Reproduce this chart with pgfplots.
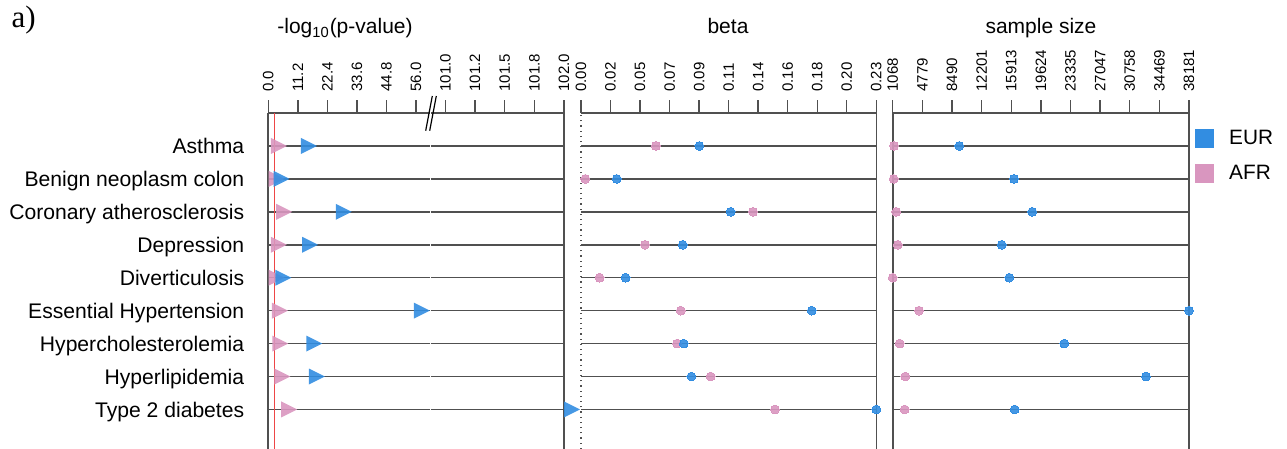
\documentclass[border=0pt]{standalone}
\usepackage{pgfplots}
\usepackage{pgfplotstable}
\pgfplotsset{compat=1.18}
\usepackage{fontspec}
\setmainfont{Liberation Sans}
\newfontfamily\seriffont{Liberation Serif}
\definecolor{eur}{RGB}{50,141,225}
\definecolor{afr}{RGB}{217,150,191}
\definecolor{lin}{RGB}{80,80,80}
\definecolor{redl}{RGB}{238,70,70}

\pgfdeclareplotmark{rtri}{%
 \pgfpathmoveto{\pgfqpoint{0pt}{4pt}}%
 \pgfpathlineto{\pgfqpoint{8pt}{0pt}}%
 \pgfpathlineto{\pgfqpoint{0pt}{-4pt}}%
 \pgfpathclose\pgfusepathqfill}

% row: 1 Asthma ... 9 Type 2 diabetes
\pgfplotstableread{
row peur pafr beur bafr neur nafr
1 12.4 1.0 0.0902 0.0571 9410 1231
2 2.0 0.1 0.0272 0.0033 16261 1193
3 25.6 3.0 0.1140 0.1311 18553 1519
4 12.8 1.0 0.0775 0.0488 14720 1694
5 2.7 0.1 0.0340 0.0142 15672 1068
6 55.2 1.4 0.1758 0.0760 38181 4362
7 14.4 1.5 0.0783 0.0732 22561 1945
8 15.4 2.3 0.0841 0.0988 32794 2646
9 102.0 4.9 0.2250 0.1478 16348 2571
}\data

\pgfplotsset{
 panel/.style={
  scale only axis, height=168pt, ymin=0, ymax=10.2, y dir=reverse,
  ytick={1,...,9}, ytick style={draw=none}, yticklabels={},
  ymajorgrids, major grid style={draw=lin, line width=0.75pt},
  axis x line=top, axis line style={draw=lin, line width=0.8pt, -},
  tick align=outside, major tick length=6.5pt,
  xtick style={draw=lin, line width=0.7pt},
  xticklabel shift=4pt,
  xticklabel style={rotate=90, anchor=west, inner sep=0pt, font=\fontsize{7.5}{8}\selectfont},
  clip=false, anchor=north west,
 },
 noarrows/.style={
  every outer x axis line/.append style={-},
  every outer y axis line/.append style={-},
  every inner x axis line/.append style={-},
  every inner y axis line/.append style={-},
  x axis line style={-}, y axis line style={-},
 },
 eurtri/.style={only marks, mark=rtri, color=eur, fill=eur, fill opacity=0.9, forget plot},
 afrtri/.style={only marks, mark=rtri, color=afr, fill=afr, fill opacity=0.9, forget plot},
 eurdot/.style={only marks, mark=*, mark size=2.2pt, color=eur, mark options={line width=0pt, draw=eur, fill=eur, fill opacity=0.9}, forget plot},
 afrdot/.style={only marks, mark=*, mark size=2.2pt, color=afr, mark options={line width=0pt, draw=afr, fill=afr, fill opacity=0.9}, forget plot},
}

\begin{document}
\begin{tikzpicture}
\useasboundingbox (0,0) rectangle (643.5pt,-224.5pt);

% panel 1, segment before the break
\begin{axis}[panel, at={(134.15pt,-56.5pt)}, width=81.1pt,
  xmin=0, xmax=61.5, axis y line=left,
  xtick={0,11.2,22.4,33.6,44.8,56},
  xticklabels={0.0,11.2,22.4,33.6,44.8,56.0},
  yticklabels={Asthma,Benign neoplasm colon,Coronary atherosclerosis,Depression,Diverticulosis,Essential Hypertension,Hypercholesterolemia,Hyperlipidemia,Type 2 diabetes},
  yticklabel style={anchor=base east, inner sep=0pt, xshift=-8.6pt, yshift=-3.8pt, font=\fontsize{10.56}{12}\selectfont},
  noarrows]
\addplot[redl, line width=0.55pt, forget plot] coordinates {(2.3,0) (2.3,10.2)};
\addplot[afrtri, restrict x to domain=0:61.5] table[x=pafr, y=row] {\data};
\addplot[eurtri, restrict x to domain=0:61.5] table[x=peur, y=row] {\data};
\end{axis}

% panel 1, segment after the break
\begin{axis}[panel, at={(215.25pt,-56.5pt)}, width=66.75pt,
  xmin=100.875, xmax=102, axis y line=right,
  xtick={101,101.25,101.5,101.75,102},
  xticklabels={101.0,101.2,101.5,101.8,102.0}, noarrows]
\addplot[eurtri, restrict x to domain=100:103] table[x=peur, y=row] {\data};
\end{axis}

% panel 2: beta
\begin{axis}[panel, at={(290.5pt,-56.5pt)}, width=147.65pt,
  xmin=0, xmax=0.225, axis y line=right,
  xtick={0,0.0225,0.045,0.0675,0.09,0.1125,0.135,0.1575,0.18,0.2025,0.225},
  xticklabels={0.00,0.02,0.05,0.07,0.09,0.11,0.14,0.16,0.18,0.20,0.23}, noarrows]
\draw[lin, dotted, line width=0.6pt] (rel axis cs:0,0) -- (rel axis cs:0,1);
\addplot[afrdot] table[x=bafr, y=row] {\data};
\addplot[eurdot] table[x=beur, y=row] {\data};
\end{axis}

% panel 3: sample size
\begin{axis}[panel, at={(446.35pt,-56.5pt)}, width=148.15pt,
  xmin=1068, xmax=38181, axis y line=box,
  xtick={1068,4779.3,8490.6,12201.9,15913.2,19624.5,23335.8,27047.1,30758.4,34469.7,38181},
  xticklabels={1068,4779,8490,12201,15913,19624,23335,27047,30758,34469,38181},
  scaled x ticks=false,
  legend style={at={(1,1)}, anchor=north west, xshift=3pt, yshift=-8pt,
    draw=none, fill=none, inner sep=0pt, row sep=8pt, column sep=7.5pt,
    nodes={inner sep=0pt}, font=\fontsize{10.4}{12}\selectfont},
  legend cell align=left, noarrows]
\addplot[afrdot] table[x=nafr, y=row] {\data};
\addplot[eurdot] table[x=neur, y=row] {\data};
\addlegendimage{legend image code/.code={\fill[eur] (0pt,-4.5pt) rectangle (9pt,4.5pt);}}
\addlegendentry{EUR}
\addlegendimage{legend image code/.code={\fill[afr] (0pt,-4.5pt) rectangle (9pt,4.5pt);}}
\addlegendentry{AFR}
\end{axis}

% break marks
\draw[black, line width=0.6pt] (216.15pt,-48pt) -- (212.85pt,-65.35pt);
\draw[black, line width=0.6pt] (218.15pt,-48pt) -- (214.85pt,-65.35pt);

% titles
\node[anchor=base, inner sep=0pt, font=\fontsize{10.5}{12}\selectfont] at (172.5pt,-17pt) {-log\textsubscript{10}(p-value)};
\node[anchor=base, inner sep=0pt, font=\fontsize{10.5}{12}\selectfont] at (364pt,-17pt) {beta};
\node[anchor=base, inner sep=0pt, font=\fontsize{10.5}{12}\selectfont] at (520.5pt,-17pt) {sample size};
\node[anchor=base west, inner sep=0pt, font=\seriffont\fontsize{15.5}{18}\selectfont] at (5.6pt,-13.6pt) {a)};
\end{tikzpicture}
\end{document}
